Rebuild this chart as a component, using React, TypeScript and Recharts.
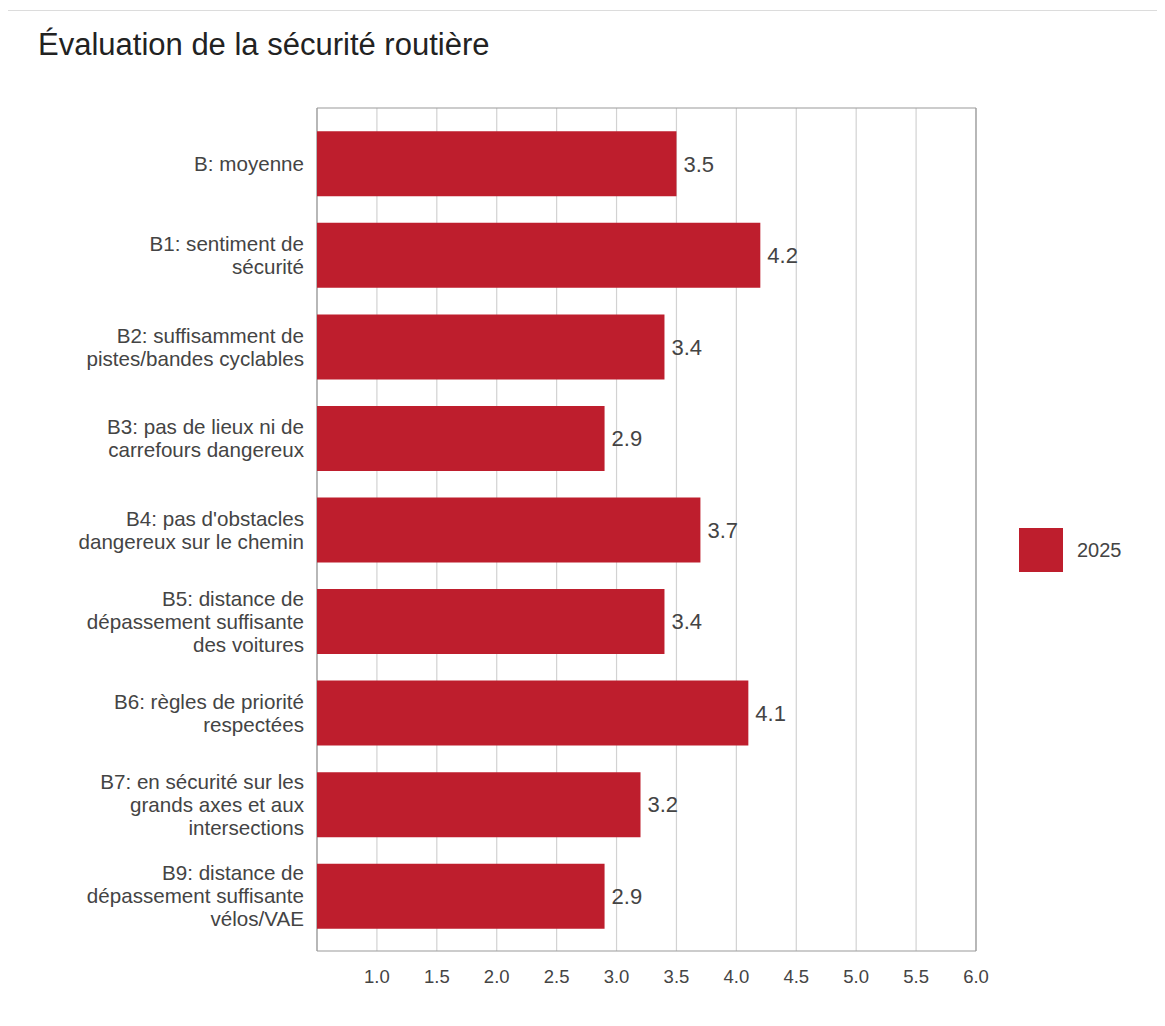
import React from "react";
import { BarChart, Bar, XAxis, YAxis, CartesianGrid, LabelList } from "recharts";

const categories = [
  "B: moyenne",
  "B1: sentiment de\nsécurité",
  "B2: suffisamment de\npistes/bandes cyclables",
  "B3: pas de lieux ni de\ncarrefours dangereux",
  "B4: pas d'obstacles\ndangereux sur le chemin",
  "B5: distance de\ndépassement suffisante\ndes voitures",
  "B6: règles de priorité\nrespectées",
  "B7: en sécurité sur les\ngrands axes et aux\nintersections",
  "B9: distance de\ndépassement suffisante\nvélos/VAE",
];
const scores2025 = [3.5, 4.2, 3.4, 2.9, 3.7, 3.4, 4.1, 3.2, 2.9];
const xTicks = [1.0, 1.5, 2.0, 2.5, 3.0, 3.5, 4.0, 4.5, 5.0, 5.5, 6.0];

const data = categories.map((name, i) => ({ name, value: scores2025[i] }));

const RED = "#be1e2d";
const FONT = "'Liberation Sans', Arial, sans-serif";

function CategoryTick(props: any) {
  const { x, y, payload } = props;
  const lines: string[] = String(payload.value).split("\n");
  const lh = 23;
  const start = y - ((lines.length - 1) * lh) / 2;
  return (
    <text x={x} y={start} textAnchor="end" fill="#444" fontSize={20.6} fontFamily={FONT}>
      {lines.map((l, i) => (
        <tspan key={i} x={x} y={start + i * lh} dy="0.35em">
          {l}
        </tspan>
      ))}
    </text>
  );
}

// plot frame: left/right edges and top/bottom edges of the plot area
const frameV = ({ offset }: any) => [offset.left, offset.left + offset.width];
const frameH = ({ offset }: any) => [offset.top, offset.top + offset.height];

export default function App() {
  return (
    <div style={{ position: "relative", width: 1149, height: 1010 }}>
      <div
        style={{
          position: "absolute",
          left: -1,
          top: 2,
          width: 1170,
          height: 1012,
          border: "1px solid #dcdcdc",
          boxSizing: "border-box",
        }}
      />
      <div
        style={{
          position: "absolute",
          left: 30,
          top: 19,
          fontFamily: FONT,
          fontSize: 31,
          color: "#222",
          whiteSpace: "nowrap",
        }}
      >
        Évaluation de la sécurité routière
      </div>
      <div style={{ position: "absolute", left: 0, top: 0 }}>
        <BarChart
          width={1000}
          height={1000}
          data={data}
          layout="vertical"
          margin={{ top: 100, right: 32, bottom: 17, left: 0 }}
          barCategoryGap="14.5%"
        >
          <CartesianGrid horizontal={false} stroke="#d2d2d2" strokeWidth={1.2} />
          <CartesianGrid
            stroke="#9a9a9a"
            strokeWidth={1.2}
            verticalCoordinatesGenerator={frameV}
            horizontalCoordinatesGenerator={frameH}
          />
          <XAxis
            type="number"
            domain={[0.5, 6]}
            ticks={xTicks}
            tickFormatter={(v: number) => v.toFixed(1)}
            axisLine={false}
            tickLine={false}
            tickMargin={13}
            height={40}
            tick={{ fill: "#444", fontSize: 18.5, fontFamily: FONT }}
            allowDataOverflow
          />
          <YAxis
            type="category"
            dataKey="name"
            width={309}
            axisLine={false}
            tickLine={false}
            tickSize={0}
            tickMargin={13}
            tick={<CategoryTick />}
            interval={0}
            padding={{ top: 10, bottom: 9 }}
          />
          <Bar dataKey="value" fill={RED} isAnimationActive={false}>
            <LabelList
              dataKey="value"
              position="right"
              offset={7}
              formatter={(v: any) => Number(v).toFixed(1)}
              fill="#444"
              fontSize={22}
              fontFamily={FONT}
            />
          </Bar>
        </BarChart>
      </div>
      <div
        style={{
          position: "absolute",
          left: 1011,
          top: 520,
          display: "flex",
          alignItems: "center",
          fontFamily: FONT,
          fontSize: 20,
          color: "#444",
        }}
      >
        <div style={{ width: 44, height: 44, background: RED, marginRight: 14 }} />
        2025
      </div>
    </div>
  );
}
